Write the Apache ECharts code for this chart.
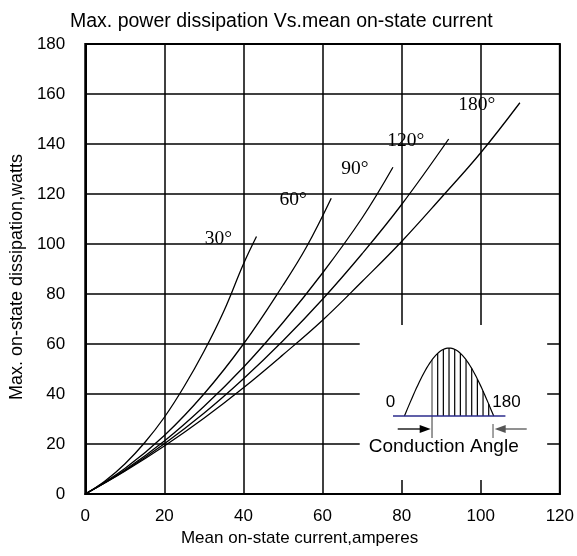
<!DOCTYPE html>
<html><head><meta charset="utf-8">
<script src="https://cdn.jsdelivr.net/npm/echarts@6/dist/echarts.min.js"></script>
<style>html,body{margin:0;padding:0;background:#fff}#c{width:577px;height:556px}</style>
</head><body><div id="c"></div>
<script>
// ---- data ----
const angleNames = ['30°', '60°', '90°', '120°', '180°'];

const current30 = [0, 5, 10, 15, 20, 25, 30, 35, 40, 43.3];
const power30   = [0, 5.2, 12, 20.5, 30.7, 43, 57, 73, 92, 103];

const current60 = [0, 10, 20, 30, 40, 50, 56, 62.2];
const power60   = [0, 10.2, 23.4, 40, 60, 83.5, 99, 118.3];

const current90 = [0, 10, 20, 30, 40, 50, 60, 70, 77.8];
const power90   = [0, 9.6, 21.2, 35, 50.7, 68.6, 88.4, 110.4, 130.7];

const current120 = [0, 10, 20, 30, 40, 50, 60, 70, 80, 91.9];
const power120   = [0, 9.3, 20.1, 32.3, 46.1, 61.3, 77.9, 96.1, 115.8, 142];

const current180 = [0, 10, 20, 30, 40, 50, 60, 70, 80, 90, 100, 109.9];
const power180   = [0, 9.1, 19.2, 30.3, 42.5, 55.7, 69.5, 85, 101, 118.5, 136.5, 156.5];

const xTickLabels = [0, 20, 40, 60, 80, 100, 120];
const yTickLabels = [0, 20, 40, 60, 80, 100, 120, 140, 160, 180];

const insetZero = '0';
const insetEnd = '180';
const insetCaption = 'Conduction Angle';

// ---- chart ----
const SANS = '"Liberation Sans", Arial, sans-serif';
const SERIF = '"Liberation Serif", "Times New Roman", serif';

const currents = [current30, current60, current90, current120, current180];
const powers = [power30, power60, power90, power120, power180];

const series = angleNames.map((name, i) => {
  const pts = currents[i].map((c, k) => [c, powers[i][k]]);
  const last = pts[pts.length - 1];
  return {
    type: 'line', name: name, data: pts, smooth: 0.4,
    showSymbol: false, silent: true, animation: false,
    lineStyle: { color: '#000', width: 1.3 },
    markPoint: {
      symbol: 'circle', symbolSize: 1, silent: true, animation: false,
      itemStyle: { color: 'rgba(0,0,0,0)' },
      data: [{ coord: last }],
      label: {
        show: true, position: 'left', distance: 24, offset: [0, 2], formatter: name,
        fontFamily: SERIF, fontSize: 19.5, color: '#000'
      }
    }
  };
});

const chart = echarts.init(document.getElementById('c'), null, { renderer: 'canvas' });
chart.setOption({
  animation: false,
  backgroundColor: '#fff',
  title: {
    text: 'Max. power dissipation Vs.mean on-state current',
    left: 65, top: 7,
    textStyle: { fontFamily: SANS, fontSize: 19.5, fontWeight: 'normal', color: '#000' }
  },
  grid: { left: 84, right: 14, top: 44, bottom: 62, show: true, borderColor: '#000', borderWidth: 2, backgroundColor: 'transparent' },
  xAxis: {
    type: 'value', min: xTickLabels[0], max: xTickLabels[xTickLabels.length - 1], interval: 20,
    name: 'Mean on-state current,amperes', nameLocation: 'middle', nameGap: 35,
    nameTextStyle: { fontFamily: SANS, fontSize: 17, color: '#000', padding: [0, 46, 0, 0] },
    axisLine: { show: true, lineStyle: { color: '#000', width: 2 } },
    axisTick: { show: false },
    axisLabel: { fontFamily: SANS, fontSize: 17, color: '#000', margin: 14 },
    splitLine: { show: true, lineStyle: { color: '#000', width: 1.5 } }
  },
  yAxis: {
    type: 'value', min: yTickLabels[0], max: yTickLabels[yTickLabels.length - 1], interval: 20,
    name: 'Max. on-state dissipation,watts', nameLocation: 'middle', nameGap: 58,
    nameTextStyle: { fontFamily: SANS, fontSize: 18, color: '#000', padding: [0, 16, 0, 0] },
    axisLine: { show: true, lineStyle: { color: '#000', width: 2 } },
    axisTick: { show: false },
    axisLabel: { fontFamily: SANS, fontSize: 17, color: '#000', margin: 20 },
    splitLine: { show: true, lineStyle: { color: '#000', width: 1.5 } }
  },
  series: series
});

// ---- inset illustration (schematic, placed in data space) ----
const insetBoxData = { x0: 69.4, x1: 116.8, yTop: 67.6, yBottom: 5.6 };
const tl = chart.convertToPixel({ gridIndex: 0 }, [insetBoxData.x0, insetBoxData.yTop]);
const br = chart.convertToPixel({ gridIndex: 0 }, [insetBoxData.x1, insetBoxData.yBottom]);
const ox = tl[0], oy = tl[1];
const g = [];
g.push({ type: 'rect', z: 50, silent: true, shape: { x: ox, y: oy, width: br[0] - ox, height: br[1] - oy }, style: { fill: '#fff' } });

const baseY = oy + 91;
const humpX0 = ox + 44.7, humpW = 89.3, humpH = 68;
const humpPts = [];
for (let k = 0; k <= 60; k++) {
  const t = k / 60;
  humpPts.push([humpX0 + humpW * t, baseY - humpH * Math.sin(Math.PI * t)]);
}
// hatching
for (let k = 0; k <= 10; k++) {
  const x = ox + 72.3 + k * 5.67;
  const t = (x - humpX0) / humpW;
  const top = baseY - humpH * Math.sin(Math.PI * t);
  const first = k === 0;
  g.push({ type: 'line', z: 51, silent: true,
    shape: { x1: x, y1: top, x2: x, y2: first ? baseY + 22 : baseY },
    style: { stroke: first ? '#555' : '#000', lineWidth: 1.2 } });
}
g.push({ type: 'polyline', z: 52, silent: true, shape: { points: humpPts }, style: { stroke: '#000', lineWidth: 1.2, fill: null } });
g.push({ type: 'line', z: 53, silent: true, shape: { x1: ox + 33.3, y1: baseY, x2: ox + 145.7, y2: baseY }, style: { stroke: '#2b2b8c', lineWidth: 1.6 } });
// right end marker
g.push({ type: 'line', z: 51, silent: true, shape: { x1: ox + 133.3, y1: baseY + 8, x2: ox + 133.3, y2: baseY + 22 }, style: { stroke: '#666', lineWidth: 1.2 } });
// left arrow (pointing right)
const ay = baseY + 13;
g.push({ type: 'line', z: 51, silent: true, shape: { x1: ox + 38, y1: ay, x2: ox + 62, y2: ay }, style: { stroke: '#000', lineWidth: 1.3 } });
g.push({ type: 'polygon', z: 51, silent: true, shape: { points: [[ox + 71, ay], [ox + 60, ay - 4], [ox + 60, ay + 4]] }, style: { fill: '#000' } });
// right arrow (pointing left)
g.push({ type: 'line', z: 51, silent: true, shape: { x1: ox + 167, y1: ay, x2: ox + 144, y2: ay }, style: { stroke: '#555', lineWidth: 1.3 } });
g.push({ type: 'polygon', z: 51, silent: true, shape: { points: [[ox + 135, ay], [ox + 146, ay - 4], [ox + 146, ay + 4]] }, style: { fill: '#555' } });
// texts
g.push({ type: 'text', z: 54, silent: true, x: ox + 30.7, y: oy + 77.7, style: { text: insetZero, font: '17px ' + SANS, fill: '#000', textAlign: 'center', textVerticalAlign: 'middle' } });
g.push({ type: 'text', z: 54, silent: true, x: ox + 146.7, y: oy + 77.7, style: { text: insetEnd, font: '17px ' + SANS, fill: '#000', textAlign: 'center', textVerticalAlign: 'middle' } });
g.push({ type: 'text', z: 54, silent: true, x: ox + 84, y: oy + 121.7, style: { text: insetCaption, font: '19px ' + SANS, fill: '#000', textAlign: 'center', textVerticalAlign: 'middle' } });

chart.setOption({ graphic: g });
</script>
</body></html>
